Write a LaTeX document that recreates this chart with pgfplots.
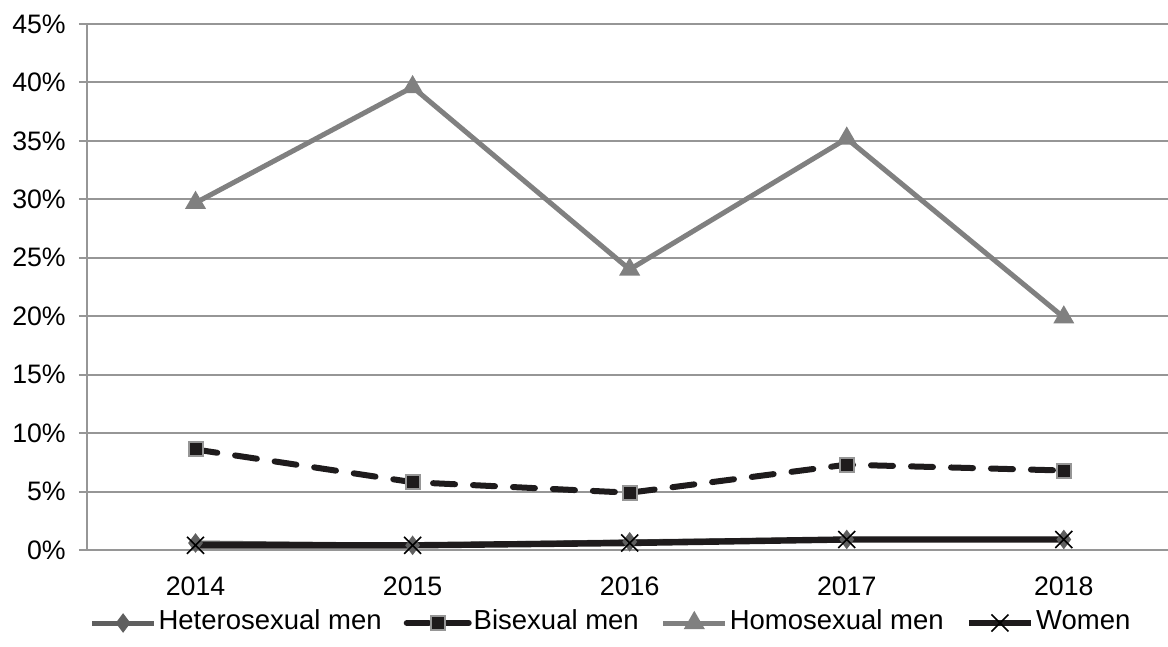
\documentclass[border=0pt]{standalone}
\usepackage{fontspec}
\setmainfont{Liberation Sans}
\usepackage{pgfplots}
\pgfplotsset{compat=1.18}
\definecolor{gridgray}{RGB}{150,150,150}
\definecolor{homogray}{RGB}{128,128,128}
\definecolor{heterogray}{RGB}{95,95,95}
\definecolor{nearblack}{RGB}{30,27,28}

\begin{document}
\fontsize{13.4}{15}\selectfont
\begin{tikzpicture}
  \begin{axis}[
    at={(0,0)}, anchor=south west,
    scale only axis,
    width=540.5bp, height=263bp,
    xmin=-0.5, xmax=4.48,
    ymin=0, ymax=45,
    xtick={0,1,2,3,4},
    xticklabels={2014,2015,2016,2017,2018},
    extra x ticks={-0.5,0.5,1.5,2.5,3.5},
    extra x tick labels={},
    extra x tick style={major tick length=4bp, tick style={gridgray, line width=1bp}, grid=none},
    ytick={0,5,...,45},
    yticklabel={\pgfmathprintnumber{\tick}\%},
    /pgf/number format/assume math mode=true,
    ymajorgrids,
    grid style={gridgray, line width=1bp},
    axis x line*=bottom,
    axis y line*=left,
    axis line style={gridgray, line width=1.3bp, -},
    x tick style={draw=none},
    y tick style={gridgray, line width=1bp},
    tick align=outside,
    major tick length=4bp,
    xticklabel style={yshift=-5bp},
    yticklabel style={xshift=-2bp},
    clip=false,
    legend style={at={(262bp,-36.5bp)}, anchor=center, draw=none, fill=none,
      legend columns=4, font=\fontsize{13.8}{15}\selectfont,
      nodes={text depth=0.25em, text height=0.75em, inner xsep=1bp},
      column sep=0bp, /tikz/every even column/.append style={column sep=10bp}},
    legend image code/.code={%
      \draw[mark repeat=2,mark phase=2] plot coordinates {(0bp,0bp)(15.5bp,0bp)(31bp,0bp)};},
  ]
  \addplot[heterogray, line width=2.5bp, mark=diamond*, mark size=4.5bp,
    mark options={solid, fill=heterogray, draw=heterogray, line width=0.5bp}] coordinates {
    (0,0.6) (1,0.4) (2,0.7) (3,0.9) (4,0.9)
  };
  \addlegendentry{Heterosexual men}
  \addplot[nearblack, line width=3bp, dash pattern=on 11bp off 9bp, line cap=round,
    mark=square*, mark size=3.5bp,
    mark options={solid, fill=nearblack, draw=gridgray, line width=1bp}] coordinates {
    (0,8.6) (1,5.8) (2,4.9) (3,7.3) (4,6.8)
  };
  \addlegendentry{Bisexual men}
  \addplot[homogray, line width=2.5bp, mark=triangle*, mark size=3.6bp,
    mark options={solid, fill=homogray, draw=homogray}] coordinates {
    (0,29.7) (1,39.6) (2,24.0) (3,35.2) (4,19.9)
  };
  \addlegendentry{Homosexual men}
  \addplot[nearblack, line width=3.2bp, mark=x, mark size=6bp,
    mark options={solid, draw=black, line width=0.8bp}] coordinates {
    (0,0.4) (1,0.4) (2,0.6) (3,0.9) (4,0.9)
  };
  \addlegendentry{Women}
  \end{axis}
  \pgfresetboundingbox
  \path[use as bounding box] (-43.5bp,-48.5bp) rectangle (540.5bp,275bp);
\end{tikzpicture}
\end{document}
